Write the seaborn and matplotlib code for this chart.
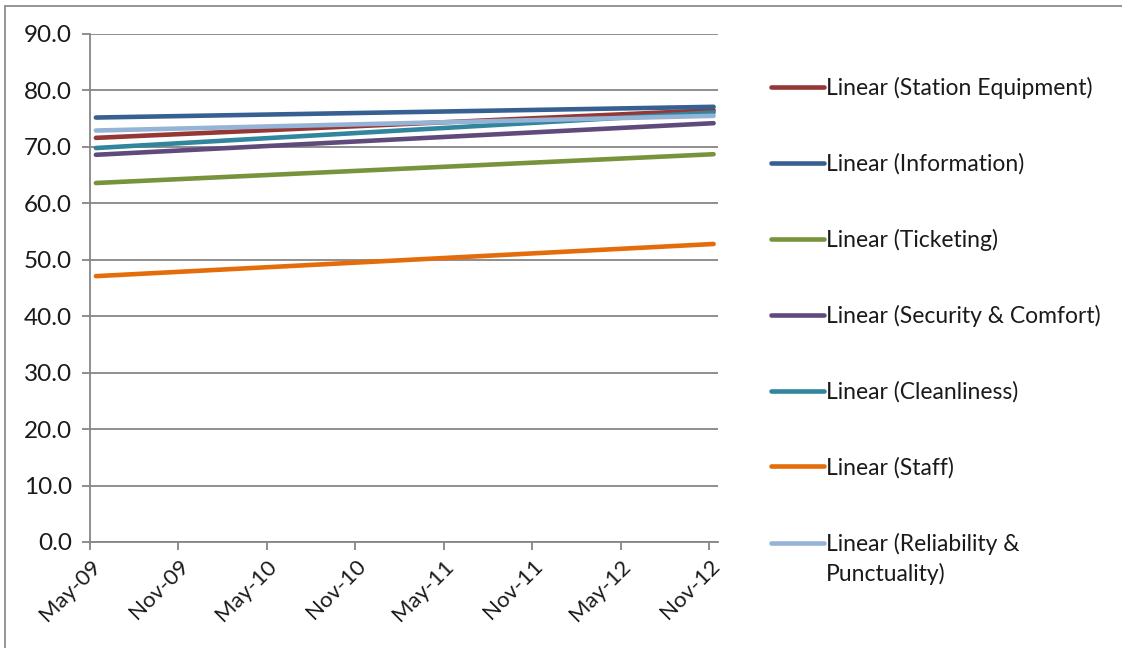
import matplotlib
matplotlib.use("Agg")
import matplotlib.pyplot as plt
from matplotlib.lines import Line2D
import seaborn as sns
import pandas as pd

# Linear trend lines of satisfaction scores, May-09 to Nov-12
series_names = [
    "Station Equipment",
    "Information",
    "Ticketing",
    "Security & Comfort",
    "Cleanliness",
    "Staff",
    "Reliability & Punctuality",
]
start_values = [71.6, 75.2, 63.6, 68.6, 69.8, 47.1, 72.9]
end_values = [76.5, 77.1, 68.7, 74.2, 76.1, 52.8, 75.5]

# Months counted from May-09; trend lines span the first to last survey
trend_start_month = 0.4
trend_end_month = 42.3

tick_months = [0, 6, 12, 18, 24, 30, 36, 42]
tick_labels = ["May-09", "Nov-09", "May-10", "Nov-10", "May-11", "Nov-11", "May-12", "Nov-12"]
y_ticks = [0, 10, 20, 30, 40, 50, 60, 70, 80, 90]

colors = ["#953735", "#376092", "#77933C", "#604A7B", "#31859C", "#E46C0A", "#95B3D7"]

rows = []
for name, s, e in zip(series_names, start_values, end_values):
    rows.append({"series": name, "month": trend_start_month, "score": s})
    rows.append({"series": name, "month": trend_end_month, "score": e})
df = pd.DataFrame(rows)

sns.set_theme(style="white")
plt.rcParams["font.family"] = ["Lato", "DejaVu Sans"]

text_color = "#1a1a1a"
font_size = 16.5

fig = plt.figure(figsize=(11.22, 6.48), dpi=100)
ax = fig.add_axes([90 / 1122, 1 - 542 / 648, (718 - 90) / 1122, (542 - 34) / 648])

palette = dict(zip(series_names, colors))
sns.lineplot(data=df, x="month", y="score", hue="series", hue_order=series_names,
             palette=palette, linewidth=3.3, ax=ax, legend=False,
             solid_capstyle="round")

ax.set_xlim(0, 42.6)
ax.set_ylim(0, 90)
ax.set_yticks(y_ticks)
ax.set_yticklabels([f"{v:.1f}" for v in y_ticks])
ax.set_xticks(tick_months)
ax.set_xticklabels(tick_labels, rotation=45, ha="right", rotation_mode="anchor")
ax.set_xlabel("")
ax.set_ylabel("")

grid_color = "#868686"
ax.yaxis.grid(True, color=grid_color, linewidth=1.3)
ax.set_axisbelow(True)
for side in ["top", "right"]:
    ax.spines[side].set_visible(False)
for side in ["left", "bottom"]:
    ax.spines[side].set_color(grid_color)
    ax.spines[side].set_linewidth(1.3)

ax.tick_params(axis="both", which="major", direction="out", length=6, width=1.3,
               color=grid_color, labelsize=16, labelcolor=text_color, pad=4,
               left=True, bottom=True)
ax.tick_params(axis="y", labelsize=17.5, pad=7)

# Legend on the right; the last entry wraps onto a second line below its key
handles = [Line2D([0], [0], color=c, linewidth=3.3, solid_capstyle="round") for c in colors]
labels = [f"Linear ({n})" for n in series_names]
labels[-1] = "Linear (Reliability &"
leg = fig.legend(handles, labels, loc="upper left", bbox_to_anchor=(762 / 1122, 1 - 68 / 648),
                 frameon=False, fontsize=font_size, handlelength=2.3, handletextpad=0.08,
                 labelspacing=2.36, borderaxespad=0, labelcolor=text_color)

fig.canvas.draw()
last_bb = leg.get_texts()[-1].get_window_extent()
fig.text(last_bb.x0 / 1122, (last_bb.y0 - 30) / 648, "Punctuality)",
         fontsize=font_size, color=text_color, ha="left", va="bottom")

# Outer chart border
fig.add_artist(Line2D([5 / 1122, 1], [1 - 6 / 648, 1 - 6 / 648], transform=fig.transFigure,
                      color="#8c8c8c", linewidth=1.3))
fig.add_artist(Line2D([5 / 1122, 5 / 1122], [0, 1 - 6 / 648], transform=fig.transFigure,
                      color="#8c8c8c", linewidth=1.3))

fig.savefig("out.png", dpi=100)
